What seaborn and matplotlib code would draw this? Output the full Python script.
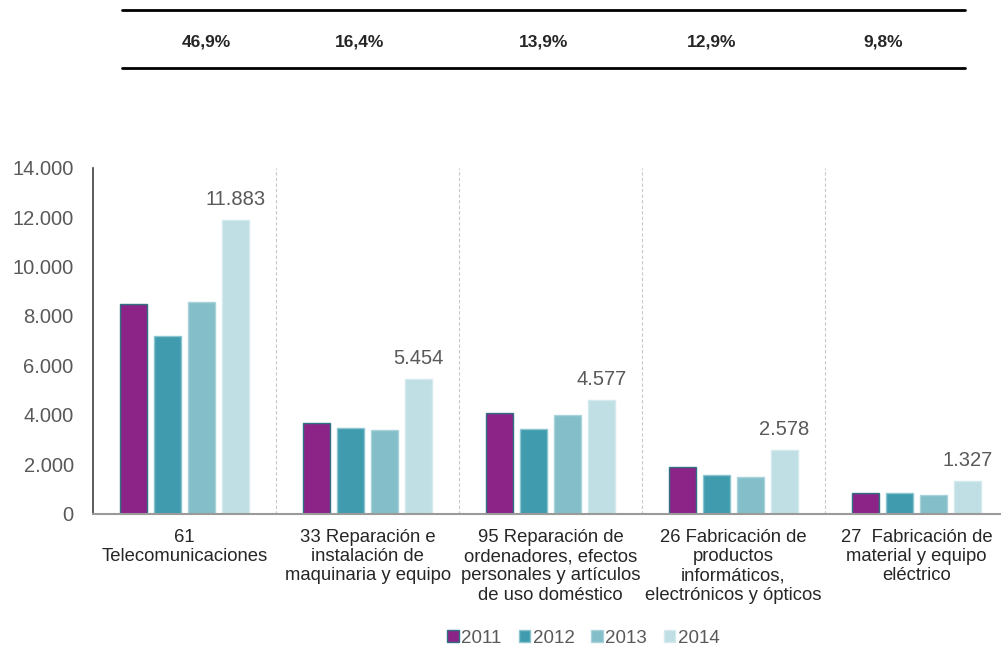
"""
Cifra de negocios por rama de actividad, 2011-2014
"""
import matplotlib
matplotlib.use("Agg")
import matplotlib.pyplot as plt
from matplotlib import ticker
from matplotlib.patches import Patch
import pandas as pd
import seaborn as sns

sns.set_style("white")
plt.rcParams["font.family"] = ["Liberation Sans", "DejaVu Sans"]

ramas = [
    "61\nTelecomunicaciones",
    "33 Reparación e\ninstalación de\nmaquinaria y equipo",
    "95 Reparación de\nordenadores, efectos\npersonales y artículos\nde uso doméstico",
    "26 Fabricación de\nproductos\ninformáticos,\nelectrónicos y ópticos",
    "27  Fabricación de\nmaterial y equipo\neléctrico",
]
anios = ["2011", "2012", "2013", "2014"]
v2011 = [8500, 3680, 4050, 1900, 850]
v2012 = [7200, 3480, 3420, 1540, 850]
v2013 = [8580, 3400, 3980, 1460, 730]
v2014 = [11883, 5454, 4577, 2578, 1327]
pesos = ["46,9%", "16,4%", "13,9%", "12,9%", "9,8%"]
colores = ["#8B2486", "#3F9BAD", "#84BEC9", "#C0DFE4"]
bordes = ["#2E7283", "#8CC4CF", "#A9D3DB", "#D4EAEE"]

data = pd.concat([
    pd.DataFrame({"rama": ramas, "anio": a, "valor": v})
    for a, v in zip(anios, [v2011, v2012, v2013, v2014])
])

fig = plt.figure(figsize=(10.01, 6.5), dpi=100)
ax = fig.add_axes([0.093, 0.210, 0.914, 0.532])
sns.barplot(data=data, x="rama", y="valor", hue="anio", palette=colores,
            width=0.744, gap=0.2, legend=False, ax=ax, saturation=1)

# bordes: 2011 oscuro, resto claro
for cont, ec in zip(ax.containers, bordes):
    for p in cont:
        p.set_edgecolor(ec)
        p.set_linewidth(1.0)

ax.bar_label(ax.containers[3], labels=["{:,}".format(v).replace(",", ".") for v in v2014],
             padding=8, fontsize=14.5, color="#595959")

ax.set_ylim(0, 14000)
ax.set_xlim(-0.5, 4.5)
ax.yaxis.set_major_locator(ticker.MultipleLocator(2000))
ax.yaxis.set_major_formatter(ticker.FuncFormatter(lambda v, p: "{:,.0f}".format(v).replace(",", ".")))
ax.set_xlabel("")
ax.set_ylabel("")
ax.tick_params(axis="y", labelsize=14.5, labelcolor="#595959", length=0, pad=14)
ax.tick_params(axis="x", labelsize=13.3, labelcolor="#262626", length=0, pad=11)
for lab in ax.get_xticklabels():
    lab.set_linespacing(1.18)

for x in [0.5, 1.5, 2.5, 3.5]:
    ax.axvline(x, color="#C8C8C8", lw=0.8, ls=(0, (3, 2)), zorder=0)

sns.despine(ax=ax, top=True, right=True)
ax.spines["left"].set_color("#404040")
ax.spines["left"].set_linewidth(1.2)
ax.spines["bottom"].set_color("#9A9A9A")
ax.spines["bottom"].set_linewidth(1.5)

# tabla superior con pesos
fig.add_artist(plt.Line2D([0.122, 0.964], [0.985, 0.985], color="black", lw=2))
fig.add_artist(plt.Line2D([0.122, 0.964], [0.895, 0.895], color="black", lw=2))
for xp, t in zip([0.206, 0.359, 0.543, 0.711, 0.882], pesos):
    fig.text(xp, 0.935, t, ha="center", va="center", fontsize=12.5, fontweight="bold")

handles = [Patch(facecolor=c, edgecolor=ec, label=a) for c, ec, a in zip(colores, bordes, anios)]
fig.legend(handles=handles, loc="center", bbox_to_anchor=(0.583, 0.018), ncol=4, frameon=False,
           fontsize=13.5, handlelength=0.6, handleheight=0.6, handletextpad=0.15, columnspacing=0.9,
           labelcolor="#595959")

plt.savefig("out.png", dpi=100)
